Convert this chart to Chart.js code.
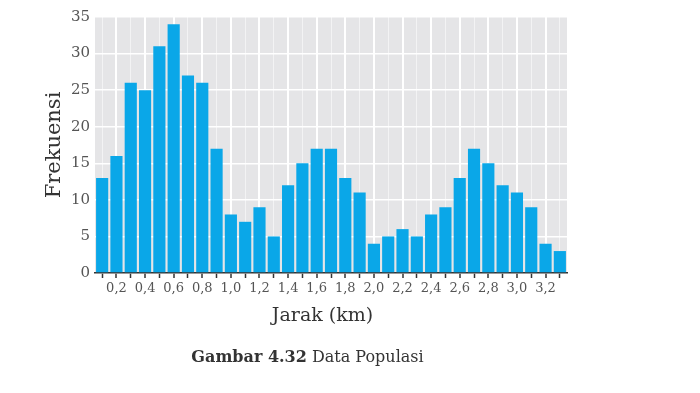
<!DOCTYPE html>
<html><head><meta charset="utf-8">
<script src="https://cdn.jsdelivr.net/npm/chart.js@4/dist/chart.umd.min.js"></script>
<style>
html,body{margin:0;padding:0;background:#fff;width:700px;height:393px;overflow:hidden}
#wrap{position:relative;width:700px;height:393px}
#xtitle{position:absolute;left:0;width:645px;top:302px;text-align:center;font-family:'DejaVu Serif';font-size:19px;color:#333;line-height:24px}
#caption{position:absolute;left:0;width:615px;top:345px;text-align:center;font-family:'DejaVu Serif';font-size:16px;color:#333;line-height:24px}
#caption b{font-weight:bold}
</style></head>
<body>
<div id="wrap"><canvas id="c" width="700" height="393"></canvas>
<div id="xtitle">Jarak (km)</div>
<div id="caption"><b>Gambar 4.32</b> Data Populasi</div></div>
<script>
const categories = ['0,1','0,2','0,3','0,4','0,5','0,6','0,7','0,8','0,9','1,0','1,1','1,2','1,3','1,4','1,5','1,6','1,7','1,8','1,9','2,0','2,1','2,2','2,3','2,4','2,5','2,6','2,7','2,8','2,9','3,0','3,1','3,2','3,3'];
const frequencies = [13,16,26,25,31,34,27,26,17,8,7,9,5,12,15,17,17,13,11,4,5,6,5,8,9,13,17,15,12,11,9,4,3];
const labeledTicks = ['0,2','0,4','0,6','0,8','1,0','1,2','1,4','1,6','1,8','2,0','2,2','2,4','2,6','2,8','3,0','3,2'];
const yTicks = [0,5,10,15,20,25,30,35];

const FONT = 'DejaVu Serif';
const panelBg = {
  id:'panelBg',
  beforeDraw(chart){
    const {ctx, chartArea:a} = chart;
    ctx.save();
    ctx.fillStyle = '#e5e5e7';
    ctx.fillRect(a.left, a.top, a.right - a.left, a.bottom - a.top);
    ctx.restore();
  }
};

new Chart(document.getElementById('c'), {
  type:'bar',
  data:{
    labels: categories,
    datasets:[{
      data: frequencies,
      backgroundColor:'#0aa7e8',
      borderWidth:0,
      barPercentage:0.85,
      categoryPercentage:1.0
    }]
  },
  options:{
    responsive:false,
    animation:false,
    devicePixelRatio:1,
    layout:{padding:{top:17,right:133,left:0,bottom:0}},
    plugins:{legend:{display:false},tooltip:{enabled:false}},
    scales:{
      x:{
        type:'category',
        offset:true,
        afterFit(s){ s.height = 120; },
        grid:{
          offset:false,
          drawTicks:true,
          tickLength:5,
          tickColor:'#333',
          tickWidth:1.5,
          color:(c)=> labeledTicks.includes(categories[c.index]) ? '#ffffff' : 'rgba(255,255,255,0.55)',
          lineWidth:(c)=> labeledTicks.includes(categories[c.index]) ? 2 : 1
        },
        border:{display:true,color:'#333',width:1.5},
        ticks:{
          autoSkip:false,
          maxRotation:0,
          minRotation:0,
          padding:3,
          color:'#555',
          font:{family:FONT,size:13},
          callback:(v,i)=> labeledTicks.includes(categories[i]) ? categories[i] : ''
        },
        title:{display:false}
      },
      y:{
        min:0,max:35,
        afterFit(s){ s.width = 95; },
        afterBuildTicks(s){ s.ticks = yTicks.map(v=>({value:v})); },
        grid:{color:'#ffffff',lineWidth:1.5,drawTicks:false},
        border:{display:false},
        ticks:{
          padding:5,
          color:'#555',
          font:{family:FONT,size:15}
        },
        title:{
          display:true,
          text:'Frekuensi',
          color:'#333',
          font:{family:FONT,size:21},
          padding:{top:42,bottom:0}
        }
      }
    }
  },
  plugins:[panelBg]
});
</script>
</body></html>
